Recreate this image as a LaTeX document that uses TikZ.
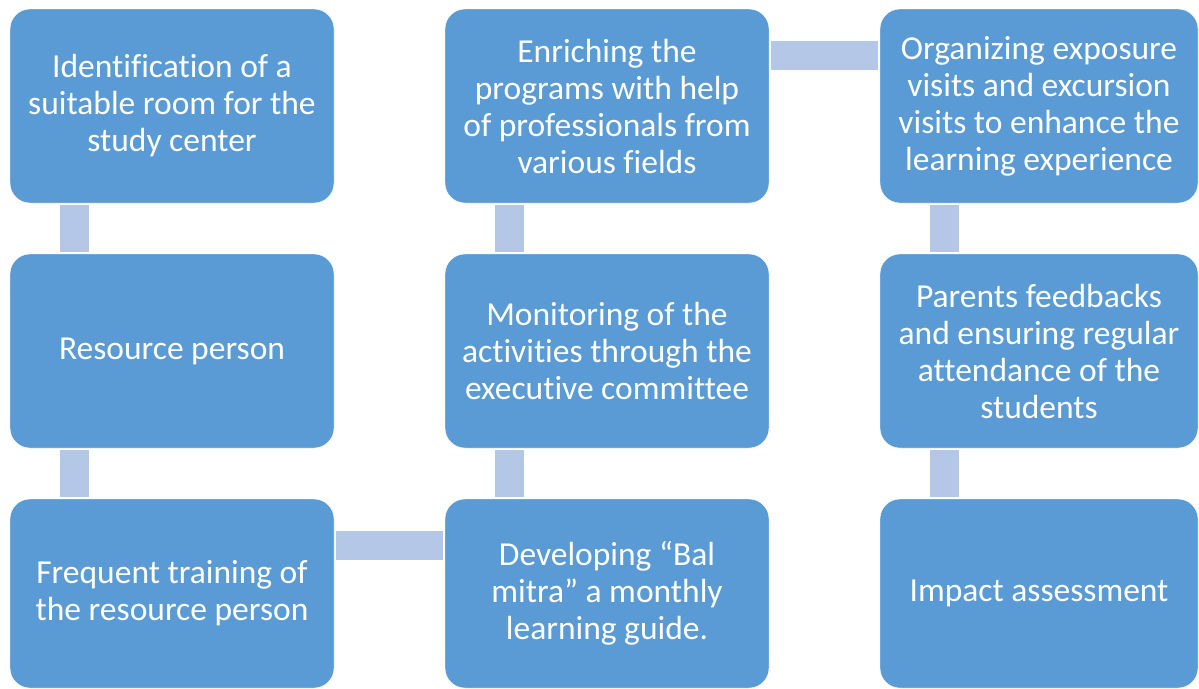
\documentclass[tikz,border=0pt]{standalone}
\usepackage{fontspec}
\setmainfont{Carlito}[Ligatures=NoCommon]
\definecolor{boxblue}{HTML}{5B9BD5}
\definecolor{linkblue}{HTML}{B4C7E7}

\begin{document}
\begin{tikzpicture}[x=1pt,y=-1pt,
  box/.style={rectangle,rounded corners=20pt,fill=boxblue,draw=white,text=white,
    minimum width=324pt,minimum height=194pt,inner sep=0pt,align=center,
    font=\fontsize{33.5}{37}\selectfont},
  link/.style={draw=linkblue,line width=29pt,shorten <=2pt,shorten >=2pt}]
  \useasboundingbox (0,0) rectangle (1199,688);
  % first column
  \node[box] (room) at (172,106) {Identification of a\\suitable room for the\\study center};
  \node[box] (person) at (172,351) {Resource person};
  \node[box,minimum height=189pt] (training) at (172,593.5) {Frequent training of\\the resource person};
  % second column
  \node[box,minimum height=189pt] (guide) at (607,593.5) {Developing “Bal\\mitra” a monthly\\learning guide.};
  \node[box] (monitor) at (607,351) {Monitoring of the\\activities through the\\executive committee};
  \node[box] (enrich) at (607,106) {Enriching the\\programs with help\\of professionals from\\various fields};
  % third column
  \node[box,minimum width=318pt] (visits) at (1039,106) {Organizing exposure\\visits and excursion\\visits to enhance the\\learning experience};
  \node[box,minimum width=318pt] (feedback) at (1039,351) {Parents feedbacks\\and ensuring regular\\attendance of the\\students};
  \node[box,minimum width=318pt,minimum height=189pt] (impact) at (1039,593.5) {Impact assessment};
  % connectors
  \draw[link] ([xshift=64.5pt]room.south west) -- ([xshift=64.5pt]person.north west);
  \draw[link] ([xshift=64.5pt]person.south west) -- ([xshift=64.5pt]training.north west);
  \draw[link] ([yshift=-47pt]training.north east) -- ([yshift=-47pt]guide.north west);
  \draw[link] ([xshift=64.5pt]guide.north west) -- ([xshift=64.5pt]monitor.south west);
  \draw[link] ([xshift=64.5pt]monitor.north west) -- ([xshift=64.5pt]enrich.south west);
  \draw[link] ([yshift=-47pt]enrich.north east) -- ([yshift=-47pt]visits.north west);
  \draw[link] ([xshift=64.5pt]visits.south west) -- ([xshift=64.5pt]feedback.north west);
  \draw[link] ([xshift=64.5pt]feedback.south west) -- ([xshift=64.5pt]impact.north west);
\end{tikzpicture}
\end{document}
